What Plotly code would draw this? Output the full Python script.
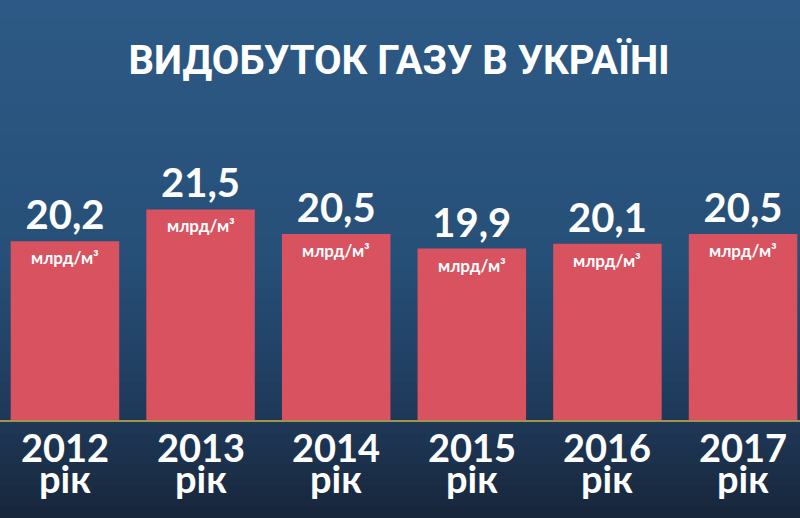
import plotly.graph_objects as go

years = ["2012", "2013", "2014", "2015", "2016", "2017"]
values = [20.2, 21.5, 20.5, 19.9, 20.1, 20.5]
unit_label = "млрд/м³"
year_suffix = "рік"
title_text = "ВИДОБУТОК ГАЗУ В УКРАЇНІ"

value_text = [f"{v:.1f}".replace(".", ",") for v in values]

fig = go.Figure()
fig.add_trace(go.Bar(
    x=years, y=values,
    marker=dict(color="#d8535f", line=dict(width=0)),
    text=value_text, textposition="outside",
    textfont=dict(family="Lato", size=40, color="white", weight="bold"),
    cliponaxis=False, hoverinfo="skip",
))

# background gradient bands (piecewise)
stops = [(0.0, (0x2d, 0x5a, 0x86)), (0.5, (0x27, 0x50, 0x78)),
         (0.8, (0x1f, 0x3a, 0x5a)), (1.0, (0x18, 0x26, 0x3b))]


def col(t):
    for (t0, c0), (t1, c1) in zip(stops[:-1], stops[1:]):
        if t <= t1:
            f = (t - t0) / (t1 - t0)
            return tuple(int(c0[k] + (c1[k] - c0[k]) * f) for k in range(3))
    return stops[-1][1]


n = 50
y_lo, y_hi = -98 / 420, 1.0
shapes = []
for i in range(n):
    c = col((i + 0.5) / n)
    y1 = y_hi - (y_hi - y_lo) * i / n
    y0 = y_hi - (y_hi - y_lo) * (i + 1) / n
    shapes.append(dict(type="rect", xref="paper", yref="paper", x0=0, x1=1,
                       y0=y0 - 0.002, y1=y1 + 0.002, line=dict(width=0),
                       fillcolor="rgb(%d,%d,%d)" % c, layer="below"))

annotations = []
for i, (yr, v) in enumerate(zip(years, values)):
    annotations.append(dict(x=i, y=v, xref="x", yref="y", text=unit_label,
                            showarrow=False, yanchor="top", yshift=-4,
                            font=dict(family="Lato", size=17, color="white", weight="bold")))
    annotations.append(dict(x=i, y=0, xref="x", yref="paper", text=yr,
                            showarrow=False, yanchor="top", yshift=-2,
                            font=dict(family="Lato", size=38, color="white", weight="bold")))
    annotations.append(dict(x=i, y=0, xref="x", yref="paper", text=year_suffix,
                            showarrow=False, yanchor="top", yshift=-33,
                            font=dict(family="Lato", size=38, color="white", weight="bold")))

fig.update_layout(
    width=800, height=518,
    margin=dict(l=0, r=0, t=0, b=98),
    paper_bgcolor="#1b2d47", plot_bgcolor="rgba(0,0,0,0)",
    bargap=0.2, showlegend=False,
    title=dict(text=title_text, x=0.499, xanchor="center", y=1 - 60 / 518, yanchor="middle",
               font=dict(family="Roboto", size=40, color="white", weight="bold")),
    xaxis=dict(type="category", range=[-0.479, 5.42], showticklabels=False, showgrid=False,
               zeroline=False, showline=True, linecolor="#a0954a", linewidth=2, ticks=""),
    yaxis=dict(range=[12.9, 30.05], visible=False, showgrid=False, zeroline=False),
    shapes=shapes, annotations=annotations,
)

fig.write_html("out.html", config={"displayModeBar": False},
               post_script="document.body.style.margin='0';")
